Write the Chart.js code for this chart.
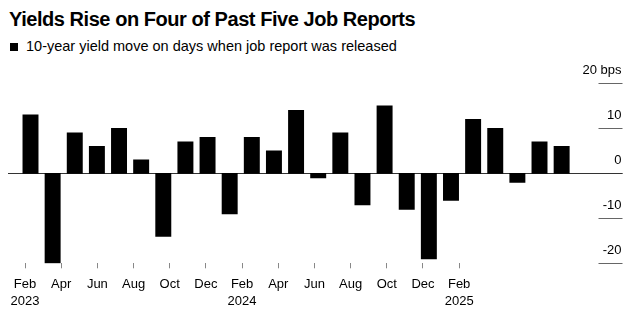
<!DOCTYPE html>
<html lang="en">
<head>
    <meta charset="UTF-8">
    <title>Yields Rise on Four of Past Five Job Reports</title>
    <script src="https://cdn.jsdelivr.net/npm/chart.js"></script>
    <style>
        * { margin: 0; padding: 0; box-sizing: border-box; }
        body {
            width: 639px;
            height: 322px;
            background: #fff;
            font-family: 'Liberation Sans', Arial, sans-serif;
            color: #000;
            position: relative;
            overflow: hidden;
        }
        .title {
            position: absolute;
            left: 9px;
            top: 9px;
            font-size: 20px;
            line-height: 1;
            font-weight: bold;
            letter-spacing: -0.45px;
            white-space: nowrap;
        }
        .legend {
            position: absolute;
            left: 10px;
            top: 39px;
            font-size: 14.5px;
            line-height: 1;
            white-space: nowrap;
        }
        .legend .swatch {
            display: inline-block;
            width: 8px;
            height: 8px;
            background: #000;
            margin-right: 8px;
        }
        .chart-box {
            position: absolute;
            left: 0;
            top: 0;
            width: 639px;
            height: 322px;
        }
    </style>
</head>
<body>
    <div class="title">Yields Rise on Four of Past Five Job Reports</div>
    <div class="legend"><span class="swatch"></span>10-year yield move on days when job report was released</div>
    <div class="chart-box"><canvas id="yieldChart"></canvas></div>

    <script>
        // yield move (bps) on each jobs report day, Feb 2023 .. Feb 2025
        const yieldMoves = [13, -20, 9, 6, 10, 3, -14, 7, 8, -9, 8, 5, 14,
                            -1, 9, -7, 15, -8, -19, -6, 12, 10, -2, 7, 6];
        const tickMonths = [0, 2, 4, 6, 8, 10, 12, 14, 16, 18, 20, 22, 24];
        const monthLabels = ['Feb', 'Apr', 'Jun', 'Aug', 'Oct', 'Dec', 'Feb', 'Apr', 'Jun', 'Aug', 'Oct', 'Dec', 'Feb'];
        const yearLabels = ['2023', '', '', '', '', '', '2024', '', '', '', '', '', '2025'];
        const yTicks = [-20, -10, 0, 10, 20];

        const font = "'Liberation Sans', Arial, sans-serif";

        // zero line across the plot + short grid stubs by the right-hand labels
        const stubPlugin = {
            id: 'stubs',
            beforeDatasetsDraw(chart) {
                const { ctx, chartArea, scales } = chart;
                ctx.save();
                ctx.lineWidth = 1;
                ctx.strokeStyle = '#666';
                yTicks.forEach(v => {
                    const y = Math.round(scales.y.getPixelForValue(v)) + 0.5;
                    ctx.beginPath();
                    ctx.moveTo(chartArea.right - 24, y);
                    ctx.lineTo(chartArea.right, y);
                    ctx.stroke();
                });
                const y0 = Math.round(scales.y.getPixelForValue(0)) + 0.5;
                ctx.strokeStyle = '#333';
                ctx.beginPath();
                ctx.moveTo(chartArea.left, y0);
                ctx.lineTo(chartArea.right, y0);
                ctx.stroke();
                ctx.restore();
            }
        };

        new Chart(document.getElementById('yieldChart'), {
            type: 'bar',
            data: {
                datasets: [{
                    data: yieldMoves.map((v, i) => ({ x: i, y: v })),
                    backgroundColor: '#000',
                    borderWidth: 0,
                    barThickness: 15.3,
                    xAxisID: 'x',
                    yAxisID: 'y'
                }]
            },
            options: {
                responsive: true,
                maintainAspectRatio: false,
                animation: false,
                layout: { padding: { left: 8, right: 16.5, top: 83.3, bottom: 0 } },
                plugins: {
                    legend: { display: false },
                    tooltip: { enabled: false }
                },
                scales: {
                    x: {
                        type: 'linear',
                        display: false,
                        offset: false,
                        grid: { offset: false },
                        min: -1.017,
                        max: 26.75
                    },
                    xt: {
                        type: 'linear',
                        position: 'bottom',
                        offset: false,
                        min: -0.94,
                        max: 33.03,
                        afterBuildTicks: s => { s.ticks = tickMonths.map(v => ({ value: v })); },
                        afterFit: s => { s.height = 58.7; },
                        border: { display: false },
                        grid: {
                            offset: false,
                            drawOnChartArea: false,
                            drawTicks: true,
                            tickLength: 5,
                            color: '#888'
                        },
                        ticks: {
                            autoSkip: false,
                            maxRotation: 0,
                            padding: 7,
                            color: '#000',
                            font: { family: font, size: 13, lineHeight: 1.34 },
                            callback: (value, index) => yearLabels[index] ? [monthLabels[index], yearLabels[index]] : monthLabels[index]
                        }
                    },
                    y: {
                        position: 'right',
                        min: -20,
                        max: 20,
                        afterBuildTicks: s => { s.ticks = yTicks.map(v => ({ value: v })); },
                        afterFit: s => { s.width = 0; },
                        border: { display: false },
                        grid: { display: false, drawTicks: false },
                        ticks: {
                            mirror: true,
                            padding: -1,
                            labelOffset: -12.5,
                            color: '#000',
                            font: { family: font, size: 13 },
                            callback: v => v === 20 ? '20 bps' : String(v)
                        }
                    }
                }
            },
            plugins: [stubPlugin]
        });
    </script>
</body>
</html>
